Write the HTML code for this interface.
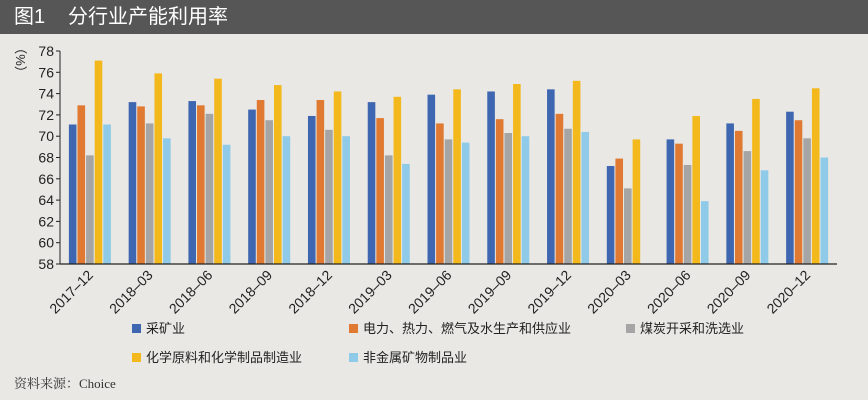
<!DOCTYPE html>
<html><head><meta charset="utf-8"><style>
body{margin:0;width:868px;height:400px;background:#e9e8e4;overflow:hidden;font-family:"Liberation Sans","Noto Sans CJK SC",sans-serif;}
#title{position:absolute;left:0;top:0;width:868px;height:34px;background:#565656;color:#fff;font-size:20px;line-height:34px;}
#title span{position:absolute;top:0}
svg{position:absolute;left:0;top:0}
</style></head><body>
<div id="title"><span style="left:14px">图1</span><span style="left:68px">分行业产能利用率</span></div>
<svg id="chart" width="868" height="400"></svg>
<script>
const categories=["2017-12","2018-03","2018-06","2018-09","2018-12","2019-03","2019-06","2019-09","2019-12","2020-03","2020-06","2020-09","2020-12"];
const seriesNames=["采矿业","电力、热力、燃气及水生产和供应业","煤炭开采和洗选业","化学原料和化学制品制造业","非金属矿物制品业"];
const mining=[71.1,73.2,73.3,72.5,71.9,73.2,73.9,74.2,74.4,67.2,69.7,71.2,72.3];
const power=[72.9,72.8,72.9,73.4,73.4,71.7,71.2,71.6,72.1,67.9,69.3,70.5,71.5];
const coal=[68.2,71.2,72.1,71.5,70.6,68.2,69.7,70.3,70.7,65.1,67.3,68.6,69.8];
const chem=[77.1,75.9,75.4,74.8,74.2,73.7,74.4,74.9,75.2,69.7,71.9,73.5,74.5];
const nonmetal=[71.1,69.8,69.2,70.0,70.0,67.4,69.4,70.0,70.4,null,63.9,66.8,68.0];
const yTicks=[58,60,62,64,66,68,70,72,74,76,78];
const colors=["#3f67b1","#e07a32","#a5a5a5","#f3b81c","#8fcbe8"];
const series=[mining,power,coal,chem,nonmetal];
const NS="http://www.w3.org/2000/svg";
const svg=document.getElementById('chart');
const x0=60,x1=837,yTop=51,yBot=264,vmin=58,vmax=78;
const y=v=>yBot-(v-vmin)/(vmax-vmin)*(yBot-yTop);
const slot=(x1-x0)/categories.length;
const bw=8.6;
function el(t,a){const e=document.createElementNS(NS,t);for(const k in a)e.setAttribute(k,a[k]);svg.appendChild(e);return e;}
// y axis
let ax=el('line',{x1:x0,y1:yTop,x2:x0,y2:yBot,stroke:'#222','stroke-width':1});


yTicks.forEach(t=>{
  const l=el('line',{x1:x0-4,x2:x0,y1:y(t),y2:y(t),stroke:'#222'});
  
  
  const tx=el('text',{x:x0-6,y:y(t)+5,'text-anchor':'end','font-size':14,fill:'#222'});
  tx.textContent=t;
  
  
});
const yt=el('text',{x:16,y:60,'font-size':13,fill:'#222','text-anchor':'middle',transform:'rotate(90 16 60)'});
yt.textContent='（%）';


// bars
categories.forEach((c,i)=>{
  const gx=x0+i*slot+slot/2-bw*2.5;
  series.forEach((s,j)=>{
    if(s[i]==null)return;
    const r=el('rect',{x:gx+j*bw+0.5,y:y(s[i]),width:bw-1,height:yBot-y(s[i]),fill:colors[j]});
    
    
  });
  const cx=x0+i*slot+slot/2+4;
  const tl=el('text',{x:cx,y:yBot+12,'text-anchor':'end','font-size':14,fill:'#222',transform:`rotate(-45 ${cx} ${yBot+12})`});
  tl.textContent=c.replace('-','–');
  
  
});
const xa=el('line',{x1:x0,y1:yBot,x2:x1,y2:yBot,stroke:'#222','stroke-width':1.2});


// legend
const lp=[[132,333],[349,333],[626,333],[132,362],[349,362]];
seriesNames.forEach((n,j)=>{
  const g=el('rect',{x:lp[j][0],y:lp[j][1]-9,width:9,height:9,fill:colors[j]});
  
  
  const t=el('text',{x:lp[j][0]+14,y:lp[j][1],'font-size':13,fill:'#222'});
  t.textContent=n;
  
  
});
const src=el('text',{x:14,y:388,'font-size':13,fill:'#333','font-family':'"Liberation Serif","Noto Serif CJK SC",serif'});
src.textContent='资料来源：Choice';


</script>
</body></html>
